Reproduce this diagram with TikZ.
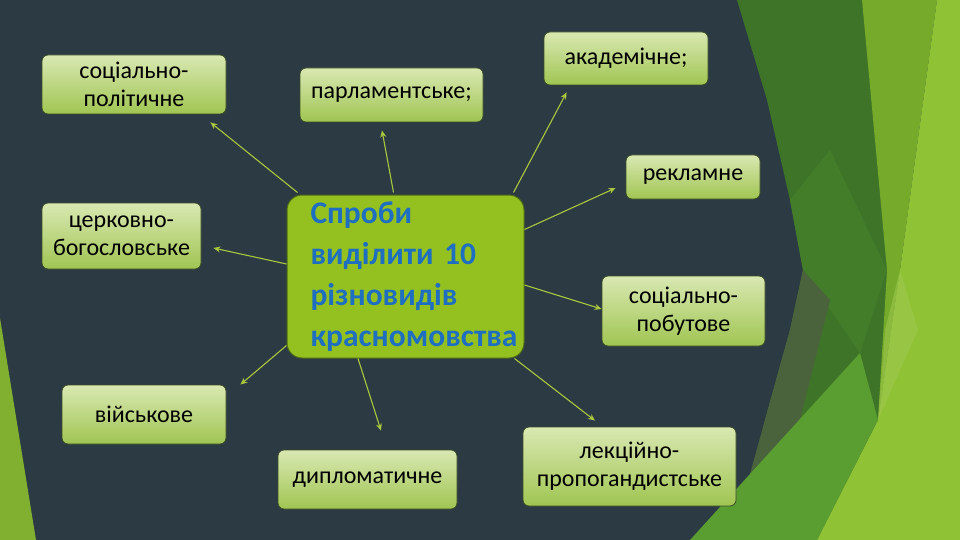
\documentclass[tikz,border=0pt]{standalone}
\usepackage{fontspec}
\setmainfont{Carlito}
\usetikzlibrary{arrows.meta}
\definecolor{bgslate}{HTML}{2B3A43}
\definecolor{gdark}{HTML}{3E7428}
\definecolor{gdark2}{HTML}{437D2A}
\definecolor{golive}{HTML}{4A633D}
\definecolor{gmid}{HTML}{76AA2A}
\definecolor{gbright}{HTML}{8FC234}
\definecolor{gband}{HTML}{5A9D31}
\definecolor{gpale}{HTML}{A2CA55}
\definecolor{boxtop}{HTML}{D9E8B2}
\definecolor{boxbot}{HTML}{A0C552}
\definecolor{boxline}{HTML}{3A4A26}
\definecolor{cfill}{HTML}{94C11F}
\definecolor{cline}{HTML}{4D6A1A}
\definecolor{ctext}{HTML}{1E6FC1}
\definecolor{arrcol}{HTML}{A9C83E}
\tikzset{
  leaf/.style={draw=boxline, line width=0.8pt, rounded corners=6pt,
    top color=boxtop, bottom color=boxbot, align=center, text=black,
    font=\fontsize{24}{28}\selectfont, inner sep=0pt},
  hub/.style={draw=cline, line width=1pt, rounded corners=15pt, fill=cfill,
    align=left, text=ctext, font=\bfseries\fontsize{31.5}{41}\selectfont,
    minimum width=237pt, minimum height=163pt, inner sep=0pt, text width=190pt},
  arr/.style={draw=arrcol, line width=1.1pt, -{Stealth[length=7pt,width=6pt]}}
}
\begin{document}
\begin{tikzpicture}[x=1pt,y=-1pt]
\useasboundingbox (0,0) rectangle (960,540);
\fill[bgslate] (0,0) rectangle (960,540);
% left strip
\fill[gbright!90!black] (0,318) -- (36,540) -- (0,540) -- cycle;
% right decoration
\fill[gdark] (737,0) -- (862,0) -- (905,300) -- (880,540) -- (735,540) -- (745,500) -- (765,420) -- (790,330) -- (803,270) -- (790,200) -- (767,100) -- cycle;
\fill[gdark2] (790,200) -- (830,150) -- (887,270) -- (860,353) -- (803,270) -- cycle;
\fill[golive] (803,270) -- (830,300) -- (800,420) -- (740,510) -- (765,420) -- (790,330) -- cycle;
\fill[gmid] (862,0) -- (937,0) -- (900,270) -- (878,420) -- (887,270) -- cycle;
\fill[gbright] (937,0) -- (960,0) -- (960,540) -- (817,540) -- (878,420) -- (900,270) -- cycle;
\fill[gpale, opacity=0.5] (900,270) -- (918,330) -- (878,420) -- (885,330) -- cycle;
\fill[gband] (690,540) -- (860,353) -- (878,420) -- (817,540) -- cycle;
% nodes
\node[hub] (c) at (405.5,276.5) {Спроби\\виділити 10\\різновидів\\красномовства};
\node[leaf, minimum width=184pt, minimum height=59pt] (sp) at (134,84.5) {соціально-\\політичне};
\node[leaf, minimum width=183pt, minimum height=54pt] (pa) at (391.5,95) {парламентське;};
\node[leaf, minimum width=164pt, minimum height=53pt] (ak) at (626,58.5) {академічне;};
\node[leaf, minimum width=134pt, minimum height=44pt] (re) at (693,177) {рекламне};
\node[leaf, minimum width=159pt, minimum height=66pt] (cb) at (121.5,236) {церковно-\\богословське};
\node[leaf, minimum width=163pt, minimum height=70pt] (sb) at (683.5,311) {соціально-\\побутове};
\node[leaf, minimum width=164pt, minimum height=59pt] (vi) at (144,414.5) {військове};
\node[leaf, minimum width=179pt, minimum height=59pt] (di) at (367.5,479.5) {дипломатичне};
\node[leaf, minimum width=213pt, minimum height=79pt] (le) at (629.5,466.5) {лекційно-\\пропогандистське};
% arrows
\draw[arr] ([xshift=11pt,yshift=2pt]c.north west) -- ([xshift=-16pt,yshift=-8pt]sp.south east);
\draw[arr] ([xshift=-12pt,yshift=2pt]c.north) -- ([xshift=-9.5pt,yshift=-8pt]pa.south);
\draw[arr] ([xshift=-11pt,yshift=2pt]c.north east) -- ([xshift=23pt,yshift=-7pt]ak.south west);
\draw[arr] ([yshift=-35pt]c.north east) -- ([xshift=-10pt,yshift=-11pt]re.west);
\draw[arr] ([yshift=12.5pt]c.west) -- ([xshift=12pt,yshift=-12pt]cb.east);
\draw[arr] ([yshift=-8.5pt]c.east) -- ([yshift=2pt]sb.west);
\draw[arr] ([yshift=13pt]c.south west) -- ([xshift=14pt]vi.north east);
\draw[arr] ([xshift=-47.5pt]c.south) -- ([xshift=13.5pt,yshift=19pt]di.north);
\draw[arr] ([xshift=-10pt]c.south east) -- ([xshift=-34.5pt,yshift=6pt]le.north);
\end{tikzpicture}
\end{document}
